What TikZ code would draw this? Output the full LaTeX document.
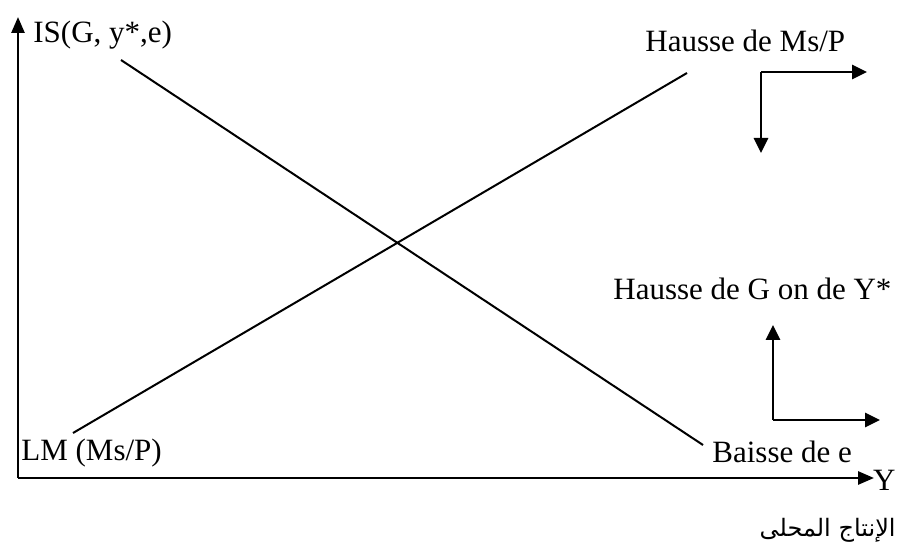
\documentclass[tikz,border=0pt]{standalone}
\usepackage{fontspec}
\setmainfont{Liberation Serif}
\newfontfamily\arabicfont[Script=Arabic]{DejaVu Sans}
\TeXXeTstate=1
\usetikzlibrary{arrows.meta}
\begin{document}
\begin{tikzpicture}[x=0.5pt,y=-0.5pt,
  axis/.style={line width=1.35pt,-{Triangle[length=8pt,width=6.5pt]}},
  curve/.style={line width=1pt},
  shiftarrow/.style={line width=1.35pt,-{Triangle[length=7.5pt,width=7pt]}},
  lab/.style={inner sep=0pt,font=\fontsize{15.5}{18}\selectfont}]
\useasboundingbox (0,0) rectangle (898,549);
\coordinate (O) at (18,478);
\coordinate (ytop) at (18,17);
\coordinate (xend) at (874,478);
\draw[axis] (O) -- (ytop);
\draw[axis] (O) -- (xend);
\coordinate (is1) at (121,60);
\coordinate (is2) at (703,445);
\coordinate (lm1) at (73,433);
\coordinate (lm2) at (687,73);
\draw[curve] (is1) -- (is2);
\draw[curve] (lm1) -- (lm2);
\coordinate (c1) at (761,72);
\coordinate (c1r) at (867,72);
\coordinate (c1d) at (761,153);
\draw[shiftarrow] (c1) -- (c1r);
\draw[shiftarrow] (c1) -- (c1d);
\coordinate (c2) at (773,420);
\coordinate (c2u) at (773,325);
\coordinate (c2r) at (880,420);
\draw[shiftarrow] (c2) -- (c2u);
\draw[shiftarrow] (c2) -- (c2r);
\node[lab,anchor=base west] (isl) at (33,43) {IS(G, y*,e)};
\node[lab,anchor=base west] (ms) at (645,52) {Hausse de Ms/P};
\node[lab,anchor=base west] (g) at (613,300) {Hausse de G on de Y*};
\node[lab,anchor=base west] (lml) at (21,460) {LM (Ms/P)};
\node[lab,anchor=base west] (be) at (712,462) {Baisse de e};
\node[lab,anchor=base east] (Y) at (896,490) {Y};
\node[inner sep=0pt,anchor=base east,font=\fontsize{12}{15}\selectfont] (ar) at (896,536) {\arabicfont\beginR الإنتاج المحلى\endR};
\end{tikzpicture}
\end{document}
